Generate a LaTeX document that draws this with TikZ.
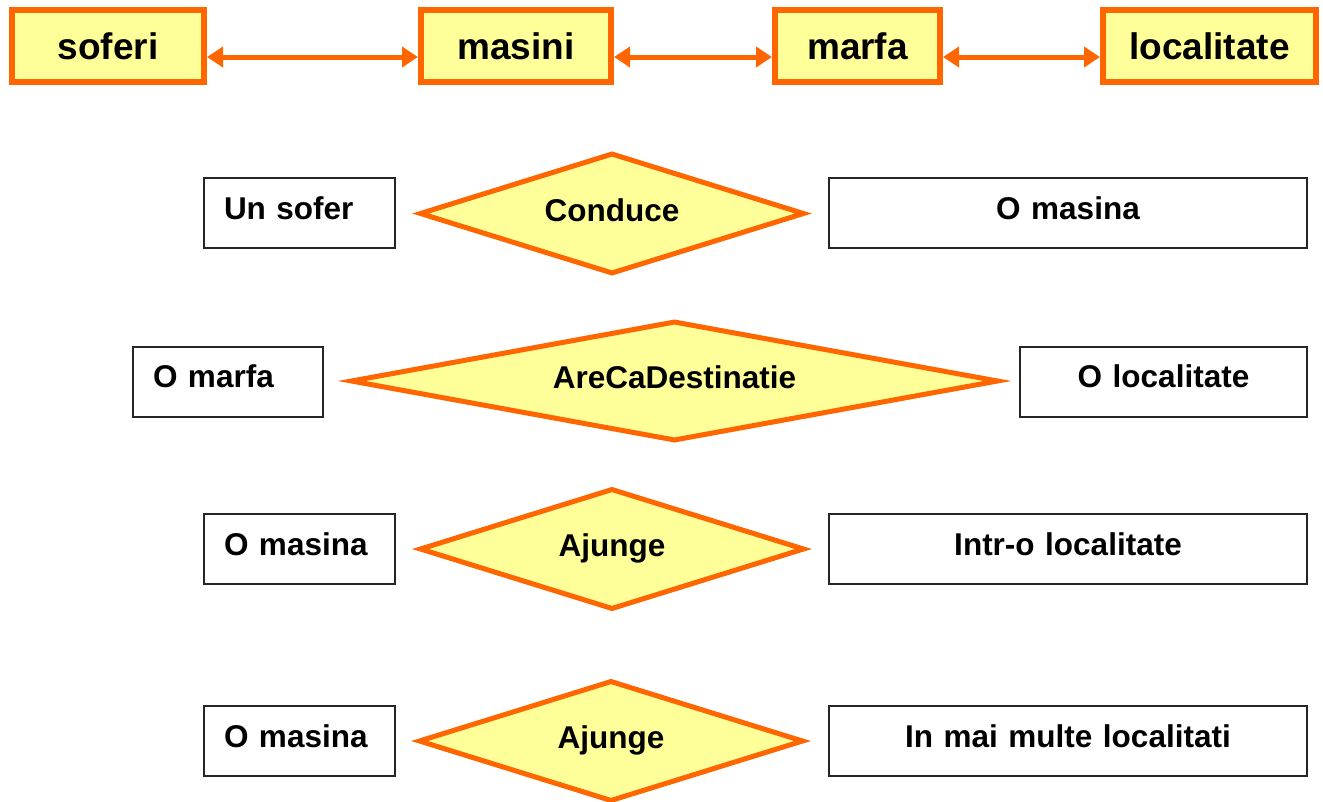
\documentclass[tikz,border=0pt]{standalone}
\usepackage{fontspec}
\setmainfont{Liberation Sans}
\usetikzlibrary{shapes.geometric,arrows.meta}
\definecolor{orangeC}{HTML}{FF6600}
\definecolor{yellowC}{HTML}{FFFF99}
\tikzset{
  ent/.style={draw=orangeC, line width=6pt, fill=yellowC, inner sep=0pt,
    minimum height=72pt, font=\fontsize{37}{40}\selectfont\bfseries,
    text height=27pt, text depth=0pt},
  rel/.style={diamond, draw=orangeC, line width=5pt, fill=yellowC, inner sep=0pt,
    font=\fontsize{31.5}{35}\selectfont\bfseries, text height=23pt, text depth=8pt},
  wbox/.style={draw=black!85, line width=2pt, fill=white, inner ysep=0pt,
    minimum height=70pt, font=\fontsize{31.5}{35}\selectfont\bfseries,
    text height=23pt, text depth=11pt},
  lbox/.style={wbox, inner xsep=20pt, align=left},
  cbox/.style={wbox, inner xsep=0pt, align=center},
  link/.style={draw=orangeC, line width=5pt, {Triangle[length=16pt,width=20pt]}-{Triangle[length=16pt,width=20pt]}}
}
\begin{document}
\begin{tikzpicture}[x=1pt,y=-1pt]
\useasboundingbox (0,0) rectangle (1323,801);
% entities
\node[ent, minimum width=192pt] (soferi) at (108,46) {soferi};
\node[ent, minimum width=190pt] (masini) at (516,46) {masini};
\node[ent, minimum width=165pt] (marfa) at (857.5,46) {marfa};
\node[ent, minimum width=213pt] (localitate) at (1209.5,46) {localitate};
\draw[link] ([yshift=-11pt]soferi.east) -- ([yshift=-11pt]masini.west);
\draw[link] ([yshift=-11pt]masini.east) -- ([yshift=-11pt]marfa.west);
\draw[link] ([yshift=-11pt]marfa.east) -- ([yshift=-11pt]localitate.west);
% row 1
\node[lbox, text width=151pt] (b1) at (299.5,213) {Un sofer};
\node[rel, aspect=3.2, minimum width=385pt, minimum height=121pt] (r1) at (612,213.5) {Conduce};
\node[cbox, text width=478pt, minimum width=478pt] (b2) at (1068,213) {O masina};
% row 2
\node[lbox, text width=150pt] (b3) at (228,381.5) {O marfa};
\node[rel, aspect=5.4, minimum width=648pt, minimum height=120pt] (r2) at (674.5,381) {AreCaDestinatie};
\node[cbox, text width=287pt, minimum width=287pt] (b4) at (1163.5,381.5) {O localitate};
% row 3
\node[lbox, text width=151pt] (b5) at (299.5,549) {O masina};
\node[rel, aspect=3.2, minimum width=385pt, minimum height=121pt] (r3) at (612,549) {Ajunge};
\node[cbox, text width=478pt, minimum width=478pt] (b6) at (1068,549) {Intr-o localitate};
% row 4
\node[lbox, text width=151pt] (b7) at (299.5,741) {O masina};
\node[rel, aspect=3.2, minimum width=385pt, minimum height=121pt] (r4) at (611,741) {Ajunge};
\node[cbox, text width=478pt, minimum width=478pt] (b8) at (1068,741) {In mai multe localitati};
\end{tikzpicture}
\end{document}
